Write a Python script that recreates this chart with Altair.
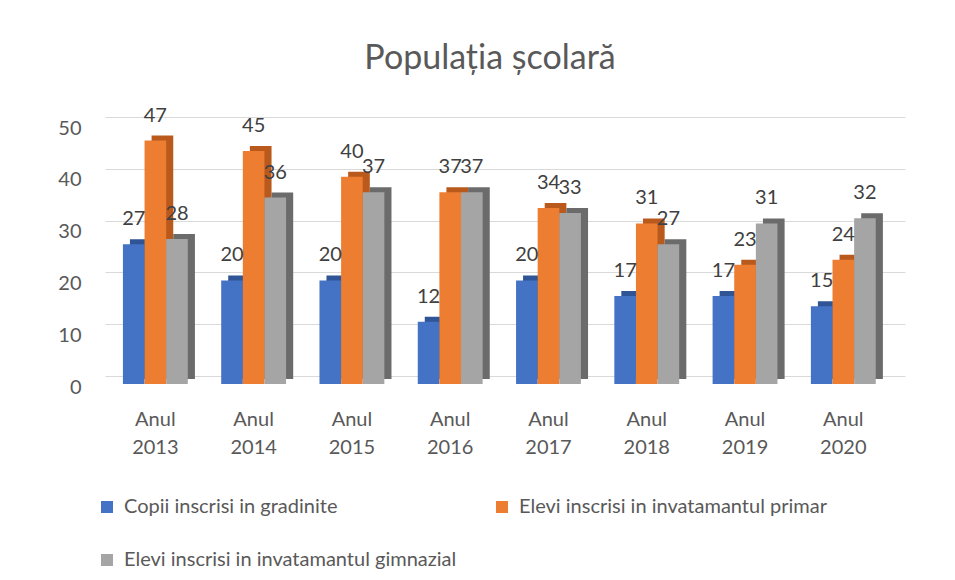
import altair as alt
import pandas as pd

years = ["Anul 2013", "Anul 2014", "Anul 2015", "Anul 2016",
         "Anul 2017", "Anul 2018", "Anul 2019", "Anul 2020"]
series = ["Copii inscrisi in gradinite",
          "Elevi inscrisi in invatamantul primar",
          "Elevi inscrisi in invatamantul gimnazial"]
gradinite = [27, 20, 20, 12, 20, 17, 17, 15]
primar = [47, 45, 40, 37, 34, 31, 23, 24]
gimnazial = [28, 36, 37, 37, 33, 27, 31, 32]
front_colors = ["#4472C4", "#ED7D31", "#A5A5A5"]
side_colors = ["#2F5597", "#B95A1C", "#6B6B6B"]
y_ticks = [0, 10, 20, 30, 40, 50]

rows = []
for i, an in enumerate(years):
    for s, vals, dark in zip(series, [gradinite, primar, gimnazial], side_colors):
        rows.append({"an": an, "serie": s, "valoare": vals[i], "umbra": dark})
df = pd.DataFrame(rows)

FONT = "Lato"
GREY = "#595959"

x_enc = alt.X(
    "an:N", sort=years,
    scale=alt.Scale(paddingInner=0.34, paddingOuter=0.24, align=0.38),
    axis=alt.Axis(title=None, labelExpr="split(datum.label, ' ')", labelAngle=0,
                  labelFontSize=20, labelColor=GREY, labelFont=FONT,
                  labelLineHeight=28, labelPadding=25, labelBaseline="top",
                  ticks=False, domain=False, grid=False),
)
xo_enc = alt.XOffset("serie:N", sort=series,
                     scale=alt.Scale(domain=series, paddingInner=0, paddingOuter=0))
xo_side = alt.XOffset("serie:N", sort=series,
                      scale=alt.Scale(domain=series, range=[7, 72],
                                      paddingInner=0, paddingOuter=0))
xo_text = alt.XOffset("serie:N", sort=series,
                      scale=alt.Scale(type="point", domain=series, padding=0.5))
y_enc = alt.Y(
    "valoare:Q",
    scale=alt.Scale(domain=[0, 50], nice=False),
    axis=alt.Axis(title=None, values=y_ticks, labelFontSize=20, labelColor=GREY,
                  labelFont=FONT, labelPadding=24, ticks=False, domain=False,
                  grid=True, gridColor="#D9D9D9", gridWidth=1,
                  tickOffset=-8, labelOffset=11),
)

base = alt.Chart(df)

side = base.mark_bar(yOffset=-5, y2Offset=-5).encode(
    x=x_enc, xOffset=xo_side, y=y_enc,
    color=alt.Color("umbra:N", scale=None),
)

front = base.mark_bar().encode(
    x=x_enc, xOffset=xo_enc, y=y_enc,
    color=alt.Color(
        "serie:N", sort=series,
        scale=alt.Scale(domain=series, range=front_colors),
        legend=alt.Legend(orient="none", legendX=-8, legendY=372, columns=2,
                          direction="horizontal", values=series,
                          title=None, symbolType="square", symbolSize=144,
                          symbolStrokeWidth=0, labelFontSize=20, labelColor=GREY,
                          labelFont=FONT, columnPadding=35, rowPadding=33,
                          labelOffset=7, padding=0, labelLimit=0),
    ),
)

labels = base.mark_text(dy=-25, fontSize=20, font=FONT, color="#404040",
                        baseline="middle").encode(
    x=x_enc, xOffset=xo_text, y=y_enc, text="valoare:Q",
)

chart = alt.layer(side, front, labels).resolve_scale(
    color="independent", xOffset="independent"
).properties(
    width=800, height=259,
    title=alt.TitleParams("Populația școlară", font=FONT, fontSize=34,
                          fontWeight="normal", color=GREY, dx=-15, offset=30),
    autosize=alt.AutoSizeParams(type="none"),
    padding={"left": 97, "top": 117, "right": 42, "bottom": 188},
).configure_view(stroke=None)

chart.save("out.html", embed_options={"renderer": "svg", "actions": False})
